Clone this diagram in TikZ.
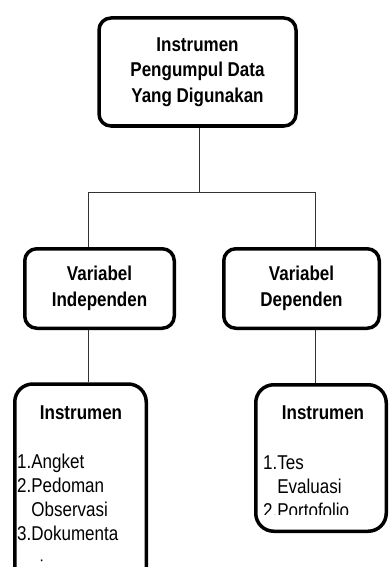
\documentclass[tikz,border=0pt]{standalone}
\usepackage{fontspec}
\setmainfont{Liberation Sans}
\newfontfamily\headfont[FakeStretch=0.85]{Liberation Sans}
\usetikzlibrary{positioning}

\begin{document}
\begin{tikzpicture}[x=1pt,y=-1pt,
    box/.style={draw, line width=3.5pt, rounded corners=12pt, inner sep=0pt,
        font=\headfont\bfseries\fontsize{20}{25.5}\selectfont, align=center},
    listbox/.style={draw, line width=3.5pt, rounded corners=18pt, inner sep=0pt},
    head/.style={font=\headfont\bfseries\fontsize{20}{25}\selectfont, inner sep=0pt},
    item/.style={font=\headfont\fontsize{20}{24}\selectfont, align=left,
        anchor=base west, inner sep=0pt},
    link/.style={draw=black!80, line width=0.9pt}]
    \useasboundingbox (0,0) rectangle (390,567);
    \clip (0,0) rectangle (390,567);

    \node[box, minimum width=197pt, minimum height=108pt] (top) at (197.5,72)
        {Instrumen\\Pengumpul Data\\Yang Digunakan};
    \node[box, minimum width=149.5pt, minimum height=79.5pt] (varind) at (99.5,288.5)
        {Variabel\\Independen};
    \node[box, minimum width=155.5pt, minimum height=79.5pt] (vardep) at (301.5,288.5)
        {Variabel\\Dependen};
    \node[listbox, minimum width=131.5pt, minimum height=216pt] (instind) at (80.5,492) {};
    \node[listbox, minimum width=130.5pt, minimum height=146.5pt] (instdep) at (321,458) {};

    \node[head] (indhead) at (81,413) {Instrumen};
    \node[head] (dephead) at (323,413) {Instrumen};

    % the last line of each list sits on the given point
    \begin{scope}
        \clip (15,430) rectangle (147,562.5);
        \node[item] (indlist) at (17,574)
            {1.Angket\\2.Pedoman\\\phantom{2.}Observasi\\3.Dokumenta\\[10pt]\phantom{3.}si};
    \end{scope}
    \begin{scope}
        \clip (256,430) rectangle (386,514);
        \node[item] (deplist) at (263,517)
            {1.Tes\\\phantom{1.}Evaluasi\\2.Portofolio};
    \end{scope}

    \coordinate (split) at (199,192);
    \coordinate (lsplit) at (88,192);
    \coordinate (rsplit) at (315,192);
    \draw[link] (top.south -| split) -- (split);
    \draw[link] (lsplit) -- (rsplit);
    \draw[link] (lsplit) -- (lsplit |- varind.north);
    \draw[link] (rsplit) -- (rsplit |- vardep.north);
    \draw[link] (lsplit |- varind.south) -- (lsplit |- instind.north);
    \draw[link] (rsplit |- vardep.south) -- (rsplit |- instdep.north);
\end{tikzpicture}
\end{document}
